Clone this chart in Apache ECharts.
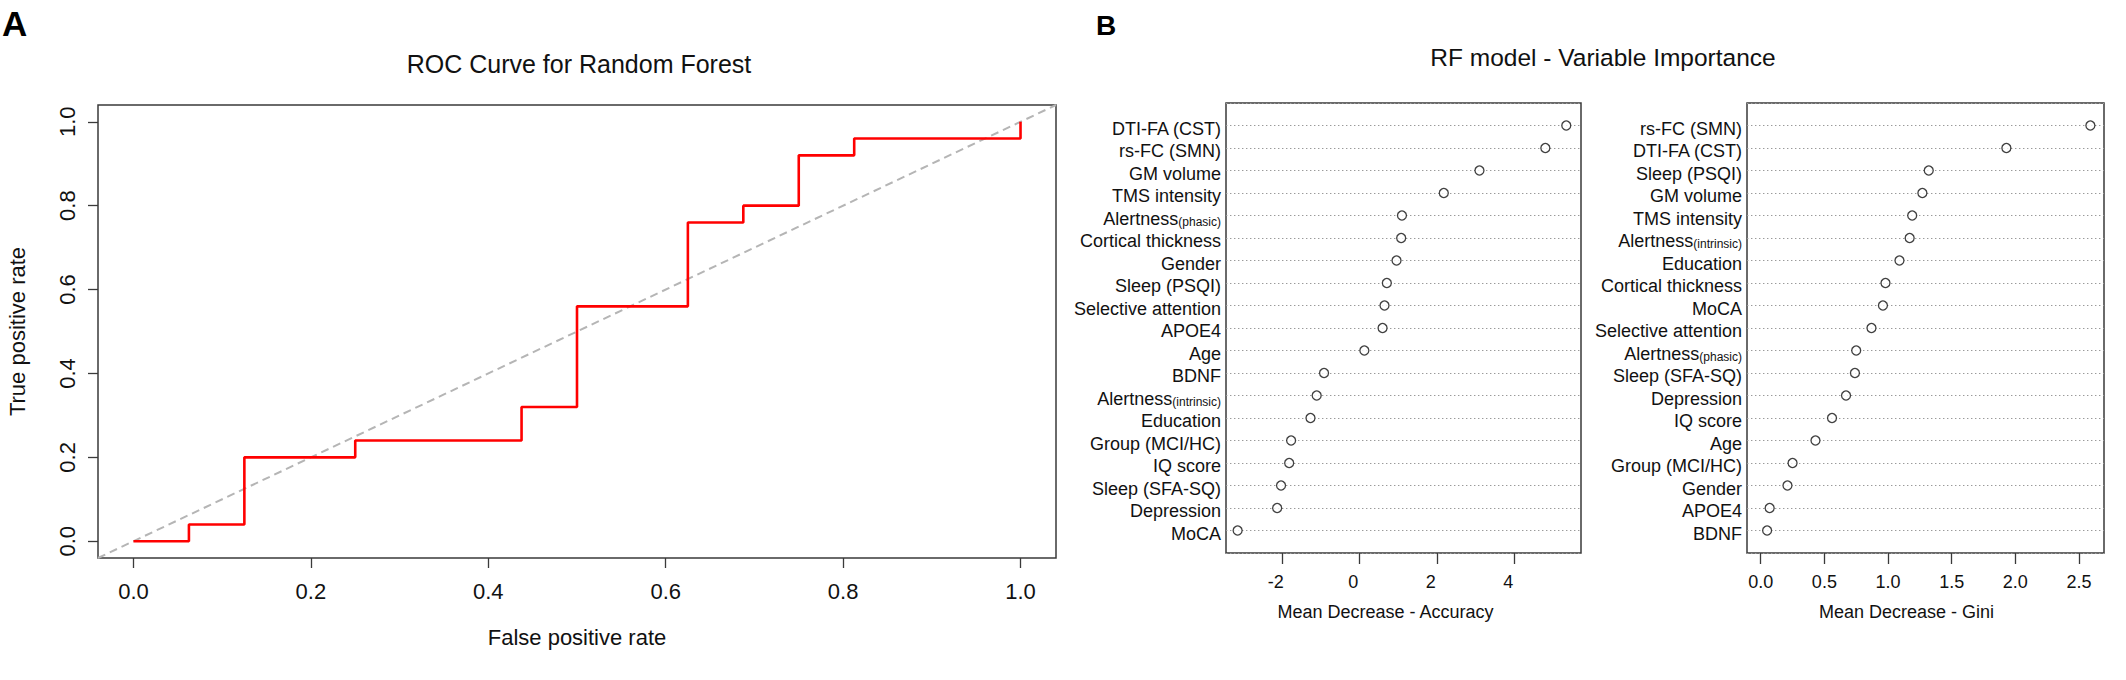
<!DOCTYPE html>
<html>
<head>
<meta charset="utf-8">
<script src="https://cdn.jsdelivr.net/npm/echarts@6/dist/echarts.min.js"></script>
<style>
  html, body { margin: 0; padding: 0; background: #fff; }
</style>
</head>
<body>
<div id="main" style="width: 2126px;height: 680px"></div>
<script type="text/javascript">
    // ROC curve (panel A)
    var rocFpr = [0, 0.0625, 0.125, 0.25, 0.4375, 0.5, 0.625, 0.6875, 0.75, 0.8125, 1];
    var rocTpr = [0, 0.04, 0.2, 0.24, 0.32, 0.56, 0.76, 0.8, 0.92, 0.96, 1];
    var rocTicks = [0, 0.2, 0.4, 0.6, 0.8, 1.0];
    var rocLim = [-0.04, 1.04];

    // variable importance (panel B), listed top to bottom
    var accNames = ['DTI-FA (CST)', 'rs-FC (SMN)', 'GM volume', 'TMS intensity', 'Alertness(phasic)',
        'Cortical thickness', 'Gender', 'Sleep (PSQI)', 'Selective attention', 'APOE4', 'Age', 'BDNF',
        'Alertness(intrinsic)', 'Education', 'Group (MCI/HC)', 'IQ score', 'Sleep (SFA-SQ)', 'Depression', 'MoCA'];
    var accValues = [5.33, 4.79, 3.09, 2.17, 1.09, 1.07, 0.95, 0.70, 0.64, 0.59, 0.12, -0.92,
        -1.11, -1.27, -1.77, -1.82, -2.03, -2.13, -3.15];
    var accTicks = [-2, 0, 2, 4];

    var giniNames = ['rs-FC (SMN)', 'DTI-FA (CST)', 'Sleep (PSQI)', 'GM volume', 'TMS intensity',
        'Alertness(intrinsic)', 'Education', 'Cortical thickness', 'MoCA', 'Selective attention',
        'Alertness(phasic)', 'Sleep (SFA-SQ)', 'Depression', 'IQ score', 'Age', 'Group (MCI/HC)', 'Gender', 'APOE4', 'BDNF'];
    var giniValues = [2.59, 1.93, 1.32, 1.27, 1.19, 1.17, 1.09, 0.98, 0.96, 0.87,
        0.75, 0.74, 0.67, 0.56, 0.43, 0.25, 0.21, 0.07, 0.05];
    var giniTicks = [0, 0.5, 1, 1.5, 2, 2.5];

    var FONT = 'Liberation Sans, Arial, Helvetica, sans-serif';
    var INK = '#111';
    var BOX = '#3a3a3a';

    var myChart = echarts.init(document.getElementById('main'), null, {renderer: 'svg'});

    function zip(a, b) {
        return a.map(function (v, i) { return [v, b[i]]; });
    }

    // dot chart rows: first name on top
    function dotData(values) {
        var n = values.length;
        return values.map(function (v, i) { return [v, n - i]; });
    }

    function rowLabel(names) {
        var n = names.length;
        return function (v) {
            var i = n - Math.round(v);
            if (i < 0 || i >= n) return '';
            var m = /^(.*?)(\(.*\))$/.exec(names[i]);
            if (m && names[i].indexOf(' ') < 0) {
                return '{n|' + m[1] + '}{s|' + m[2] + '}';
            }
            return '{n|' + names[i] + '}';
        };
    }

    var rowRich = {
        n: {fontSize: 18, fontFamily: FONT, color: INK, lineHeight: 24, verticalAlign: 'bottom'},
        s: {fontSize: 12, fontFamily: FONT, color: INK, lineHeight: 12, verticalAlign: 'bottom'}
    };

    function valueX(grid, lim, ticks, name, fmt, labelFs, tickLen, labelMargin, nameGap, namePad, labelPad) {
        return {
            type: 'value', gridIndex: grid, min: lim[0], max: lim[1],
            axisLine: {show: false, onZero: false},
            axisTick: {show: true, inside: false, length: tickLen, customValues: ticks,
                lineStyle: {color: BOX, width: 1.3}},
            axisLabel: {customValues: ticks, formatter: fmt, fontSize: labelFs, fontFamily: FONT,
                color: INK, margin: labelMargin, padding: labelPad || 0},
            splitLine: {show: false},
            name: name, nameLocation: 'middle', nameGap: nameGap,
            nameTextStyle: {fontSize: labelFs, fontFamily: FONT, color: INK, padding: namePad || 0}
        };
    }

    function rowsY(grid, names) {
        return {
            type: 'value', gridIndex: grid, min: 0, max: names.length + 1, interval: 1,
            axisLine: {show: false}, axisTick: {show: false},
            axisLabel: {formatter: rowLabel(names), margin: 5, rich: rowRich,
                showMinLabel: false, showMaxLabel: false},
            splitLine: {show: true, lineStyle: {type: [1.4, 2.6], color: '#9a9a9a', width: 1.1}}
        };
    }

    var option = {
        backgroundColor: '#fff',
        animation: false,
        grid: [
            {left: 98, top: 105, width: 958, height: 453, show: true, borderColor: BOX, borderWidth: 1.5, backgroundColor: 'transparent'},
            {left: 1226, top: 103, width: 355, height: 450, show: true, borderColor: BOX, borderWidth: 1.5, backgroundColor: 'transparent'},
            {left: 1747, top: 103, width: 357, height: 450, show: true, borderColor: BOX, borderWidth: 1.5, backgroundColor: 'transparent'}
        ],
        xAxis: [
            valueX(0, rocLim, rocTicks, 'False positive rate', function (v) { return v.toFixed(1); }, 22, 10, 22, 68),
            valueX(1, [-3.45, 5.71], accTicks, 'Mean Decrease - Accuracy', function (v) { return String(v); }, 18, 11, 20, 50, [0, 36, 0, 0], [0, 13, 0, 0]),
            valueX(2, [-0.108, 2.697], giniTicks, 'Mean Decrease - Gini', function (v) { return v.toFixed(1); }, 18, 11, 20, 50, [0, 38, 0, 0])
        ],
        yAxis: [
            {
                type: 'value', gridIndex: 0, min: rocLim[0], max: rocLim[1],
                axisLine: {show: false, onZero: false},
                axisTick: {show: true, inside: false, length: 10, customValues: rocTicks,
                    lineStyle: {color: BOX, width: 1.3}},
                axisLabel: {customValues: rocTicks, formatter: function (v) { return v.toFixed(1); },
                    rotate: 90, fontSize: 22, fontFamily: FONT, color: INK, margin: 20},
                splitLine: {show: false},
                name: 'True positive rate', nameLocation: 'middle', nameRotate: 90, nameGap: 70,
                nameTextStyle: {fontSize: 22, fontFamily: FONT, color: INK}
            },
            rowsY(1, accNames),
            rowsY(2, giniNames)
        ],
        series: [
            {
                type: 'line', xAxisIndex: 0, yAxisIndex: 0, step: 'end',
                data: zip(rocFpr, rocTpr), showSymbol: false, z: 3,
                lineStyle: {color: '#ff0000', width: 2.6},
                markLine: {
                    silent: true, symbol: ['none', 'none'], z: 2,
                    label: {show: false},
                    lineStyle: {color: '#b5b5b5', width: 2, type: [8, 5]},
                    data: [[{coord: [rocLim[0], rocLim[0]]}, {coord: [rocLim[1], rocLim[1]]}]]
                }
            },
            {
                type: 'scatter', xAxisIndex: 1, yAxisIndex: 1, data: dotData(accValues),
                symbol: 'circle', symbolSize: 9,
                itemStyle: {color: '#fff', borderColor: INK, borderWidth: 1.3}
            },
            {
                type: 'scatter', xAxisIndex: 2, yAxisIndex: 2, data: dotData(giniValues),
                symbol: 'circle', symbolSize: 9,
                itemStyle: {color: '#fff', borderColor: INK, borderWidth: 1.3}
            }
        ],
        graphic: [
            {type: 'text', left: 2, top: 6, style: {text: 'A', font: 'bold 35px ' + FONT, fill: '#000'}},
            {type: 'text', left: 1096, top: 11, style: {text: 'B', font: 'bold 28px ' + FONT, fill: '#000'}},
            {type: 'text', x: 579, y: 64, style: {text: 'ROC Curve for Random Forest', font: '25px ' + FONT,
                fill: INK, textAlign: 'center', textVerticalAlign: 'middle'}},
            {type: 'text', x: 1603, y: 57.5, style: {text: 'RF model - Variable Importance', font: '24.5px ' + FONT,
                fill: INK, textAlign: 'center', textVerticalAlign: 'middle'}}
        ]
    };

    myChart.setOption(option);
</script>
</body>
</html>
